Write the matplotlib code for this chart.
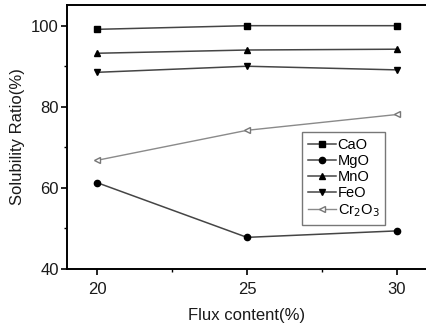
import matplotlib
matplotlib.use("Agg")
import matplotlib.pyplot as plt
from matplotlib.ticker import MultipleLocator

plt.rcParams['font.family'] = ['Liberation Sans', 'DejaVu Sans']

flux = [20, 25, 30]
cao = [99.1, 100.0, 100.0]
mgo = [61.3, 47.8, 49.4]
mno = [93.2, 94.0, 94.2]
feo = [88.5, 90.0, 89.1]
cr2o3 = [66.8, 74.2, 78.1]

fig = plt.figure(figsize=(4.26, 3.29), dpi=100)
ax = fig.add_axes([67/426, 1-269/329, 360/426, 264/329])

dark = '#454545'
ax.plot(flux, cao, color=dark, lw=1.1, marker='s', ms=4.5, mfc='black', mec='black', label='CaO')
ax.plot(flux, mgo, color=dark, lw=1.1, marker='o', ms=4.5, mfc='black', mec='black', label='MgO')
ax.plot(flux, mno, color=dark, lw=1.1, marker='^', ms=5, mfc='black', mec='black', label='MnO')
ax.plot(flux, feo, color=dark, lw=1.1, marker='v', ms=5, mfc='black', mec='black', label='FeO')
ax.plot(flux, cr2o3, color='#8a8a8a', lw=1.0, marker='<', ms=5, mfc='white', mec='#777777', label='Cr$_2$O$_3$')

ax.set_xlim(19, 31)
ax.set_ylim(40, 105.1)
ax.xaxis.set_major_locator(MultipleLocator(5))
ax.xaxis.set_minor_locator(MultipleLocator(2.5))
ax.yaxis.set_major_locator(MultipleLocator(20))
ax.yaxis.set_minor_locator(MultipleLocator(10))
ax.tick_params(which='major', direction='out', length=4, width=1.2, labelsize=12, pad=2, labelcolor='#1a1a1a')
ax.tick_params(which='minor', direction='out', length=2.5, width=1.0)
ax.tick_params(axis='x', pad=5)
for s in ax.spines.values():
    s.set_linewidth(1.4)

ax.set_xlabel('Flux content(%)', fontsize=12, labelpad=8, color='#1a1a1a')
ax.set_ylabel('Solubility Ratio(%)', fontsize=12, labelpad=4, color='#1a1a1a')

leg = ax.legend(loc='upper left', bbox_to_anchor=((302-67)/360, (269-132)/264),
                fontsize=10.5, frameon=True, fancybox=False, edgecolor='#555555',
                handlelength=1.9, handletextpad=0.12, borderpad=0.42, labelspacing=0.14,
                borderaxespad=0)
leg.get_frame().set_linewidth(1.0)

fig.savefig('out.png', dpi=100)
